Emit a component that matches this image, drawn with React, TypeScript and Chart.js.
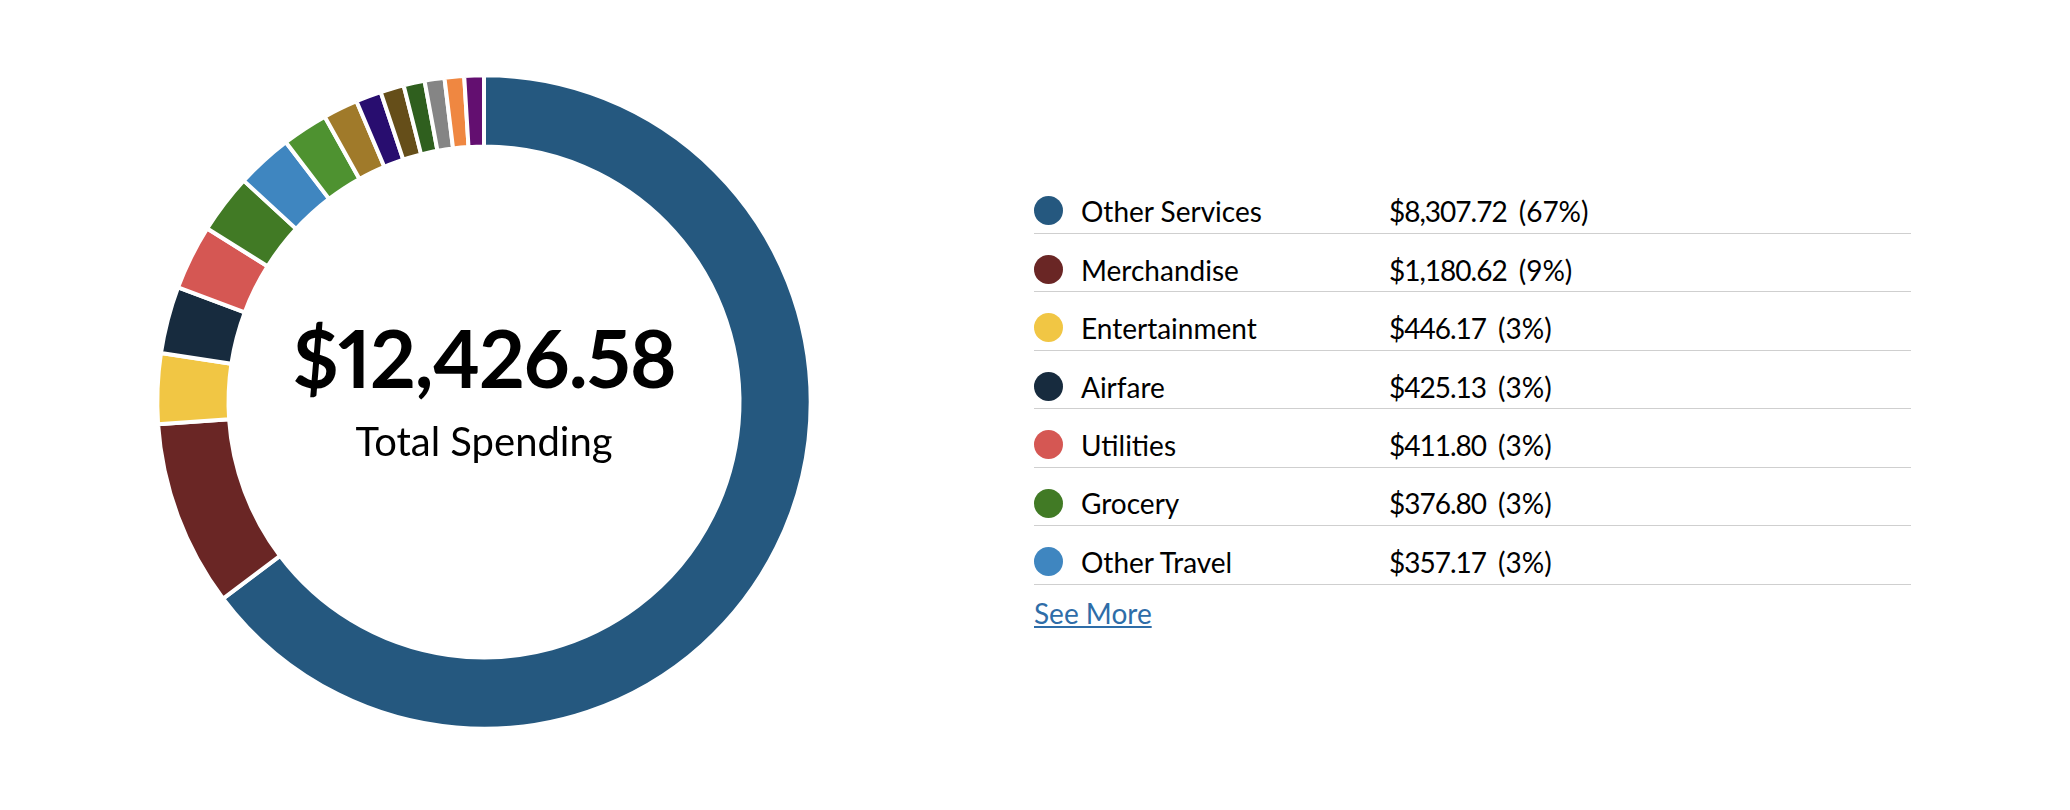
import React, { useEffect, useRef } from "react";
import { Chart, registerables } from "chart.js";

Chart.register(...registerables);

// ---- data ----
const categories = [
  "Other Services",
  "Merchandise",
  "Entertainment",
  "Airfare",
  "Utilities",
  "Grocery",
  "Other Travel",
  "Dining",
  "Gas/Automotive",
  "Health Care",
  "Lodging",
  "Car Rental",
  "Insurance",
  "Phone/Cable",
  "Professional Services",
];
const amounts = [
  8307.72, 1180.62, 446.17, 425.13, 411.8, 376.8, 357.17, 291, 221, 162, 149,
  134, 126, 124, 124,
];
const colors = [
  "#25587f",
  "#6a2625",
  "#f1c644",
  "#172b3e",
  "#d55753",
  "#417a25",
  "#3f86c0",
  "#4e9230",
  "#a07a2a",
  "#280d6f",
  "#654e19",
  "#2f5f1e",
  "#858585",
  "#ef8741",
  "#630f70",
];
const legendCount = 7;
const pctLabels = ["67%", "9%", "3%", "3%", "3%", "3%", "3%"];
const totalLabel = "$12,426.58";
const totalCaption = "Total Spending";
const linkText = "See More";

const fmt = (v: number) =>
  "$" +
  v.toLocaleString("en-US", { minimumFractionDigits: 2, maximumFractionDigits: 2 });

const FONT = "Lato, 'Open Sans', sans-serif";
// baseline offset inside a line box whose line-height equals the font size (Lato metrics)
const BASE = 0.887;

export default function App() {
  const canvasRef = useRef<HTMLCanvasElement | null>(null);

  useEffect(() => {
    const canvas = canvasRef.current;
    if (!canvas) return;
    const chart = new Chart(canvas, {
      type: "doughnut",
      data: {
        labels: categories,
        datasets: [
          {
            data: amounts,
            backgroundColor: colors,
            borderColor: "#ffffff",
            borderWidth: 4,
            hoverOffset: 0,
          },
        ],
      },
      options: {
        responsive: false,
        maintainAspectRatio: false,
        animation: false,
        cutout: "78.2%",
        radius: 326.7,
        events: [],
        layout: { padding: 0 },
        plugins: {
          legend: { display: false },
          tooltip: { enabled: false },
        },
      },
    });
    return () => chart.destroy();
  }, []);

  const lineY0 = 233.5;
  const rowH = 58.45;
  const legendLeft = 1034;
  const legendRight = 1911;
  const fs = 28;
  const bigFs = 80;
  const capFs = 40;

  return (
    <div
      style={{
        position: "absolute",
        left: 0,
        top: 0,
        width: 2070,
        height: 810,
        background: "#ffffff",
        fontFamily: FONT,
        color: "#000",
      }}
    >
      <canvas
        ref={canvasRef}
        width={680}
        height={680}
        style={{ position: "absolute", left: 144, top: 62, width: 680, height: 680 }}
      />
      <div
        style={{
          position: "absolute",
          left: 184,
          width: 600,
          top: 387.5 - BASE * bigFs,
          height: bigFs,
          lineHeight: bigFs + "px",
          fontSize: bigFs,
          fontWeight: 700,
          textAlign: "center",
          letterSpacing: "-1px",
          fontVariantNumeric: "proportional-nums",
          whiteSpace: "nowrap",
        }}
      >
        {totalLabel}
      </div>
      <div
        style={{
          position: "absolute",
          left: 184,
          width: 600,
          top: 456.7 - BASE * capFs,
          height: capFs,
          lineHeight: capFs + "px",
          fontSize: capFs,
          fontWeight: 400,
          textAlign: "center",
          whiteSpace: "nowrap",
        }}
      >
        {totalCaption}
      </div>

      {categories.slice(0, legendCount).map((name, i) => {
        const ly = lineY0 + rowH * i;
        const textTop = ly - 11.5 - BASE * fs;
        return (
          <React.Fragment key={name}>
            <div
              style={{
                position: "absolute",
                left: 1048.3 - 14.5,
                top: ly - 22.6 - 14.5,
                width: 29,
                height: 29,
                borderRadius: "50%",
                background: colors[i],
              }}
            />
            <div
              style={{
                position: "absolute",
                left: 1081,
                top: textTop,
                fontSize: fs,
                lineHeight: fs + "px",
                whiteSpace: "nowrap",
              }}
            >
              {name}
            </div>
            <div
              style={{
                position: "absolute",
                left: 1389,
                top: textTop,
                fontSize: fs,
                lineHeight: fs + "px",
                whiteSpace: "nowrap",
              }}
            >
              <span style={{ letterSpacing: "-1px" }}>{fmt(amounts[i])}</span>
              <span style={{ marginLeft: 12 }}>({pctLabels[i]})</span>
            </div>
            <div
              style={{
                position: "absolute",
                left: legendLeft,
                top: ly - 0.5,
                width: legendRight - legendLeft,
                height: 1,
                background: "#cfcfcf",
              }}
            />
          </React.Fragment>
        );
      })}
      <div
        style={{
          position: "absolute",
          left: legendLeft,
          top: 624 - BASE * fs,
          fontSize: fs,
          lineHeight: fs + "px",
          color: "#2e6da8",
          textDecoration: "underline",
          whiteSpace: "nowrap",
        }}
      >
        {linkText}
      </div>
    </div>
  );
}
